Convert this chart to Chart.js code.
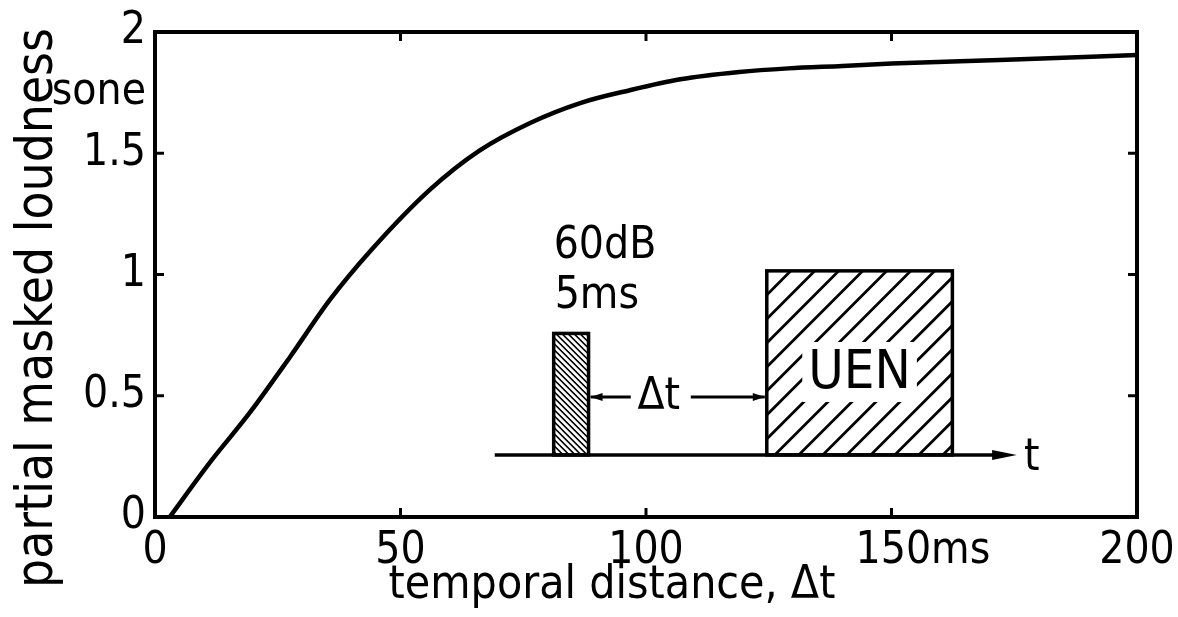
<!DOCTYPE html>
<html><head><meta charset="utf-8">
<script src="https://cdn.jsdelivr.net/npm/chart.js@4.4.1/dist/chart.umd.min.js"></script>
<style>html,body{margin:0;padding:0;background:#fff}#wrap{width:1178px;height:617px;position:relative}</style>
</head><body><div id="wrap"><canvas id="c"></canvas></div>
<script>
// ---- data ----
const delayMs  = [3, 11, 19.3, 27.5, 35.6, 44, 56, 66, 76.4, 86.6, 96.7, 107, 119, 129, 140, 150, 172, 200];
const loudness = [0, 0.22, 0.43, 0.66, 0.895, 1.10, 1.35, 1.51, 1.625, 1.707, 1.76, 1.805, 1.835, 1.85, 1.86, 1.87, 1.885, 1.905];
const xTickValues = [0, 50, 100, 150, 200];
const xTickLabels = ['0', '50', '100', '     150ms', '200'];
const yTickValues = [0, 0.5, 1, 1.5, 1.75, 2];
const yTickLabels = ['0', '0.5', '1', '1.5', 'sone', '2'];
const xTitle = 'temporal distance, \u0394t';
const yTitle = 'partial masked loudness';
const insetLabels = ['60dB', '5ms', '\u0394t', 'UEN', 't'];

const FONT = '"Liberation Sans Narrow", "DejaVu Sans Condensed", "Liberation Sans", sans-serif';
const FS = 44;

const decor = {
  id: 'decor',
  afterDatasetsDraw(chart) {
    const ctx = chart.ctx, a = chart.chartArea, xs = chart.scales.x, ys = chart.scales.y;
    const X = v => xs.getPixelForValue(v), Y = v => ys.getPixelForValue(v);
    ctx.save();
    // frame
    ctx.strokeStyle = '#000'; ctx.lineWidth = 4;
    ctx.strokeRect(a.left, a.top, a.right - a.left, a.bottom - a.top);
    // inward tick marks
    ctx.lineWidth = 3;
    const tl = 9;
    xTickValues.forEach(v => {
      if (v === 0 || v === 200) return;
      const px = X(v);
      ctx.beginPath(); ctx.moveTo(px, a.bottom); ctx.lineTo(px, a.bottom - tl); ctx.stroke();
      ctx.beginPath(); ctx.moveTo(px, a.top); ctx.lineTo(px, a.top + tl); ctx.stroke();
    });
    yTickValues.forEach((v, i) => {
      if (v === 0 || v === 2 || isNaN(Number(yTickLabels[i]))) return;
      const py = Y(v);
      ctx.beginPath(); ctx.moveTo(a.left, py); ctx.lineTo(a.left + tl, py); ctx.stroke();
      ctx.beginPath(); ctx.moveTo(a.right, py); ctx.lineTo(a.right - tl, py); ctx.stroke();
    });
    // axis titles
    ctx.fillStyle = '#000';
    ctx.font = `46px ${FONT}`;
    ctx.textAlign = 'left'; ctx.textBaseline = 'alphabetic';
    const xtw = ctx.measureText(xTitle).width;
    ctx.fillText(xTitle, 612 - xtw / 2, 598);
    ctx.save();
    ctx.font = `51px ${FONT}`;
    ctx.translate(52, 308); ctx.rotate(-Math.PI / 2);
    ctx.textAlign = 'center';
    ctx.fillText(yTitle, 0, 0);
    ctx.restore();

    // ---- inset schematic ----
    const base = Y(0.256);
    // time axis
    ctx.lineWidth = 3.5;
    ctx.beginPath(); ctx.moveTo(X(69.2), base); ctx.lineTo(X(172.5), base); ctx.stroke();
    ctx.beginPath();
    ctx.moveTo(X(175.5), base); ctx.lineTo(X(170.5), base - 5); ctx.lineTo(X(170.5), base + 5); ctx.closePath(); ctx.fill();
    // pulse
    const p0 = X(81.2), p1 = X(88.3), pt = Y(0.757);
    ctx.save();
    ctx.beginPath(); ctx.rect(p0, pt, p1 - p0, base - pt); ctx.clip();
    ctx.lineWidth = 1.6;
    for (let k = -200; k < 200; k += 6) {
      ctx.beginPath(); ctx.moveTo(p0 - 20, pt + k - 20); ctx.lineTo(p1 + 20, pt + k + (p1 - p0) + 20); ctx.stroke();
    }
    ctx.restore();
    ctx.lineWidth = 3.5;
    ctx.strokeRect(p0, pt, p1 - p0, base - pt);
    // UEN box
    const u0 = X(124.6), u1 = X(162.4), ut = Y(1.015);
    ctx.save();
    ctx.beginPath(); ctx.rect(u0, ut, u1 - u0, base - ut); ctx.clip();
    ctx.lineWidth = 2.8;
    const h = base - ut;
    for (let k = -h; k < (u1 - u0) + h; k += 24) {
      ctx.beginPath(); ctx.moveTo(u0 + k, base); ctx.lineTo(u0 + k + h, ut); ctx.stroke();
    }
    ctx.restore();
    ctx.lineWidth = 3.5;
    ctx.strokeRect(u0, ut, u1 - u0, base - ut);
    // UEN label with white backing
    ctx.font = `54px ${FONT}`;
    ctx.textAlign = 'center'; ctx.textBaseline = 'middle';
    const ucx = (u0 + u1) / 2, ucy = Y(0.598);
    const uw = ctx.measureText(insetLabels[3]).width;
    ctx.fillStyle = '#fff';
    ctx.fillRect(ucx - uw / 2 - 6, ucy - 30, uw + 12, 60);
    ctx.fillStyle = '#000';
    ctx.fillText(insetLabels[3], ucx, ucy + 2);
    // delta-t arrows
    const ay = Y(0.495);
    const tx = X(102.6);
    ctx.font = `${FS}px ${FONT}`;
    ctx.fillText(insetLabels[2], tx, ay + 1);
    ctx.lineWidth = 3;
    ctx.beginPath(); ctx.moveTo(p1 + 2, ay); ctx.lineTo(tx - 28, ay); ctx.stroke();
    ctx.beginPath(); ctx.moveTo(tx + 32, ay); ctx.lineTo(u0 - 2, ay); ctx.stroke();
    ctx.beginPath(); ctx.moveTo(p1 + 2, ay); ctx.lineTo(p1 + 14, ay - 4); ctx.lineTo(p1 + 14, ay + 4); ctx.closePath(); ctx.fill();
    ctx.beginPath(); ctx.moveTo(u0 - 2, ay); ctx.lineTo(u0 - 14, ay - 4); ctx.lineTo(u0 - 14, ay + 4); ctx.closePath(); ctx.fill();
    // pulse labels
    ctx.textAlign = 'left'; ctx.textBaseline = 'alphabetic';
    ctx.fillText(insetLabels[0], X(81.2), Y(1.07));
    ctx.fillText(insetLabels[1], X(81.4), Y(0.86));
    // t label
    ctx.fillText(insetLabels[4], X(177), base + 15);
    ctx.restore();
  }
};

new Chart(document.getElementById('c'), {
  type: 'line',
  data: {
    datasets: [{
      data: delayMs.map((x, i) => ({ x, y: loudness[i] })),
      borderColor: '#000', borderWidth: 4.5, pointRadius: 0,
      cubicInterpolationMode: 'monotone', fill: false
    }]
  },
  options: {
    responsive: true, maintainAspectRatio: false, animation: false,
    layout: { padding: { left: 0, right: 41, top: 32, bottom: 0 } },
    plugins: { legend: { display: false }, tooltip: { enabled: false } },
    scales: {
      x: {
        type: 'linear', min: 0, max: 200,
        afterBuildTicks: s => { s.ticks = xTickValues.map(v => ({ value: v })); },
        afterFit: s => { s.height = 100; s.paddingLeft = 0; s.paddingRight = 0; },
        grid: { display: false, drawTicks: false },
        border: { display: false },
        ticks: {
          padding: 8, color: '#000', maxRotation: 0, autoSkip: false,
          font: { family: FONT, size: FS },
          callback: v => xTickLabels[xTickValues.indexOf(v)]
        }
      },
      y: {
        type: 'linear', min: 0, max: 2,
        afterBuildTicks: s => { s.ticks = yTickValues.map(v => ({ value: v })); },
        afterFit: s => { s.width = 155; s.paddingTop = 0; s.paddingBottom = 0; },
        grid: { display: false, drawTicks: false },
        border: { display: false },
        ticks: {
          padding: 9, color: '#000', autoSkip: false,
          font: { family: FONT, size: FS },
          callback: v => yTickLabels[yTickValues.indexOf(v)]
        }
      }
    }
  },
  plugins: [decor]
});
</script>
</body></html>
